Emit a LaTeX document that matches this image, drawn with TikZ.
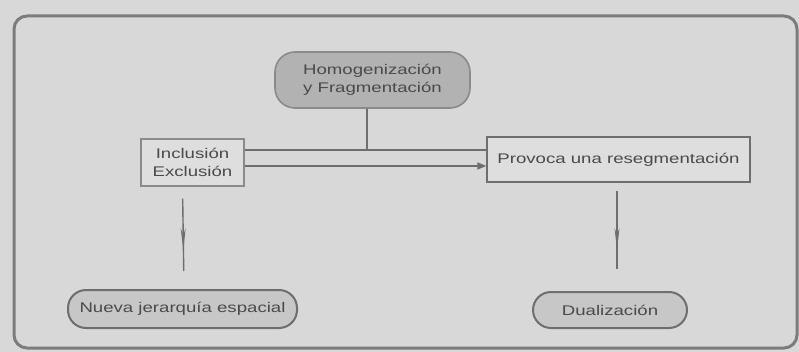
\documentclass[tikz,border=0pt]{standalone}
\usepackage{fontspec}
\setmainfont{Liberation Sans}[FakeStretch=1.33]
\usetikzlibrary{decorations.markings,arrows.meta}
\definecolor{bg}{HTML}{D8D8D8}
\definecolor{frame}{HTML}{7C7C7C}
\definecolor{txt}{HTML}{4A4A4A}
\definecolor{dark}{HTML}{B2B2B2}
\definecolor{boxfill}{HTML}{DEDEDE}
\definecolor{edge}{HTML}{8A8A8A}
\definecolor{line}{HTML}{6E6E6E}
\tikzset{
  lbl/.style={font=\fontsize{14}{18}\selectfont, text=txt, align=center, inner sep=0pt},
  darkbox/.style={lbl, draw=edge, line width=1.6pt, fill=dark, rounded corners=20pt},
  rectbox/.style={lbl, draw=edge, line width=1.3pt, fill=boxfill},
  pill/.style={lbl, draw=line, line width=2pt, fill=bg!92!black, rounded corners=18pt},
  conn/.style={draw=line, line width=1.4pt},
  midarrow/.style={conn, postaction={decorate}, decoration={markings,
      mark=at position 0.62 with {\arrow{Stealth[length=22pt,width=5pt]}}}}
}
\begin{document}
\begin{tikzpicture}[x=1pt,y=-1pt]
\useasboundingbox (0,0) rectangle (799,352);
\fill[bg] (0,0) rectangle (799,352);
\draw[frame, line width=3pt, rounded corners=13pt] (14,16) rectangle (797,348);

\node[darkbox, minimum width=195pt, minimum height=56pt] (homog) at (372.5,80) {Homogenización\\y Fragmentación};
\node[rectbox, minimum width=103pt, minimum height=47pt] (incl) at (192.5,162.5) {Inclusión\\Exclusión};
\node[rectbox, draw=line, minimum width=263pt, minimum height=45pt] (prov) at (618.5,159.5) {Provoca una resegmentación};
\node[pill, minimum width=229pt, minimum height=38pt] (nueva) at (182.5,309) {Nueva jerarquía espacial};
\node[pill, minimum width=154pt, minimum height=36pt] (dual) at (610,310) {Dualización};

\coordinate (j) at (367,150);
\draw[conn] (homog.south -| j) -- (j);
\draw[conn] (incl.east |- j) -- (prov.west |- j);
\draw[conn, -{Triangle[length=9pt,width=7pt]}] ([yshift=-3.5pt]incl.east) -- ([yshift=-3.5pt]incl.east -| prov.west);

\draw[midarrow, shorten <=12pt, shorten >=18pt] (nueva.north |- incl.south) -- ([xshift=1.5pt]nueva.north);
\draw[midarrow, shorten <=8pt, shorten >=22pt] ([xshift=-1.5pt]prov.south) -- ([xshift=-1.5pt]prov.south |- dual.north);
\end{tikzpicture}
\end{document}
